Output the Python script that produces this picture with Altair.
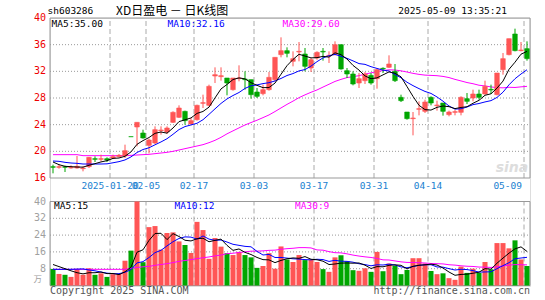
import altair as alt
import pandas as pd

# ---- data (80 trading days, 2025-01-06 .. 2025-05-09) ----
opens = [17.7, 17.6, 17.7, 17.5, 17.5, 17.4, 17.7, 18.9, 18.8, 18.9,
         19.0, 19.2, 19.3, 22.2, 23.65, 22.75, 20.9, 21.25, 23.1, 22.9,
         24.35, 25.1, 26.0, 24.1, 24.75, 27.2, 26.9, 31.3, 31.2, 31.0,
         29.25, 30.9, 30.85, 30.75, 28.9, 28.65, 29.25, 30.75, 34.5, 35.1,
         33.5, 34.9, 34.6, 32.5, 34.0, 35.0, 34.3, 34.5, 36.0, 32.1,
         31.6, 30.25, 30.6, 31.4, 30.9, 32.45, 32.6, 32.0, 28.1, 25.9,
         24.9, 26.3, 26.0, 28.1, 26.85, 27.25, 25.5, 25.85, 25.85, 27.9,
         28.0, 28.6, 28.6, 29.3, 28.5, 32.25, 34.5, 37.6, 35.1, 35.4]
highs = [18.0, 18.0, 17.85, 17.9, 19.3, 17.75, 19.15, 19.25, 19.5, 19.1,
         19.5, 19.6, 21.0, 22.2, 24.35, 23.25, 21.9, 23.75, 23.75, 23.75,
         26.0, 26.9, 26.1, 25.0, 27.0, 28.5, 30.0, 32.6, 32.6, 31.0,
         31.0, 32.9, 32.0, 30.75, 29.5, 30.0, 31.9, 34.1, 37.1, 35.6,
         35.0, 36.4, 35.5, 34.0, 35.0, 35.5, 35.0, 36.5, 36.0, 32.5,
         32.0, 31.75, 31.9, 31.75, 32.4, 32.6, 34.4, 33.1, 28.5, 25.9,
         25.9, 27.5, 27.75, 28.25, 27.6, 27.25, 26.1, 26.25, 28.25, 28.75,
         29.25, 29.25, 30.6, 30.0, 31.75, 34.75, 36.9, 38.4, 36.4, 36.5]
lows = [16.7, 17.4, 16.9, 17.4, 17.4, 17.0, 17.5, 18.4, 18.5, 18.4,
        18.9, 19.1, 19.0, 22.2, 20.75, 21.9, 19.7, 21.1, 22.5, 22.6,
        24.25, 25.0, 24.0, 24.0, 24.6, 26.5, 26.75, 30.25, 30.6, 28.4,
        29.1, 30.5, 29.25, 27.9, 28.0, 28.4, 29.1, 30.5, 34.1, 34.1,
        32.75, 33.5, 32.0, 31.9, 33.75, 33.6, 33.25, 34.4, 32.25, 31.0,
        29.9, 29.5, 30.1, 30.0, 29.4, 31.75, 32.5, 30.4, 27.4, 24.75,
        22.4, 25.4, 25.75, 26.9, 26.1, 25.35, 25.25, 25.4, 25.4, 27.1,
        27.5, 27.75, 28.5, 28.6, 28.4, 31.5, 34.4, 35.0, 35.0, 33.6]
closes = [17.6, 17.7, 17.6, 17.6, 17.75, 17.5, 19.1, 18.8, 18.9, 18.7,
          19.2, 19.4, 20.1, 22.2, 24.35, 22.0, 21.7, 23.25, 23.2, 23.5,
          25.85, 26.5, 24.6, 24.6, 26.9, 27.3, 29.75, 31.5, 31.35, 30.25,
          31.0, 31.0, 30.75, 28.5, 28.25, 29.25, 31.1, 34.1, 35.1, 34.7,
          33.9, 35.0, 32.75, 33.75, 34.85, 34.9, 34.4, 36.0, 32.35, 31.6,
          30.1, 30.9, 31.6, 30.25, 32.25, 32.35, 33.1, 30.6, 27.6, 24.9,
          25.0, 26.4, 27.4, 27.25, 26.95, 26.0, 25.9, 25.95, 28.1, 27.5,
          28.6, 28.1, 29.75, 29.2, 31.75, 33.9, 36.9, 35.1, 35.2, 33.9]
# 1 = red (up) candle, 0 = green (down) candle
rising = [0, 1, 0, 1, 1, 1, 1, 0, 1, 0,
          1, 1, 1, 0, 1, 0, 1, 1, 1, 1,
          1, 1, 0, 1, 1, 1, 1, 1, 1, 0,
          1, 1, 0, 0, 0, 1, 1, 1, 1, 0,
          1, 1, 0, 1, 1, 0, 1, 1, 0, 0,
          0, 1, 1, 0, 1, 0, 1, 0, 0, 0,
          1, 1, 1, 0, 1, 0, 1, 1, 1, 0,
          1, 0, 1, 0, 1, 1, 1, 0, 1, 0]
volumes = [7.9, 5.5, 5.1, 4.1, 7.9, 5.1, 8.2, 5.1, 5.8, 4.1,
           5.4, 5.5, 11.8, 16.6, 40.0, 11.1, 27.8, 28.3, 17.1, 25.0,
           25.3, 21.0, 19.3, 15.5, 30.3, 26.4, 12.7, 22.6, 18.5, 15.4,
           14.5, 16.0, 14.5, 13.4, 8.4, 9.3, 15.4, 8.0, 18.6, 12.4,
           11.2, 14.5, 12.1, 12.3, 11.2, 7.8, 6.5, 13.4, 14.4, 11.5,
           7.3, 7.0, 8.2, 6.5, 16.0, 6.8, 10.5, 9.4, 5.4, 7.4,
           13.0, 13.0, 10.5, 6.9, 5.4, 5.8, 3.5, 2.7, 9.0, 6.0,
           8.0, 6.0, 11.2, 7.7, 20.2, 20.2, 17.7, 21.5, 12.4, 9.3]

# moving-average values before a full window exists
ma5_head = [18.4, 18.0, 17.75, 17.7]
ma10_head = [18.55, 18.5, 18.35, 18.25, 18.2, 18.1, 18.1, 18.1, 18.1]
ma30_head = [19.5, 19.5, 19.5, 19.5, 19.5, 19.35, 19.35, 19.35, 19.35, 19.35,
             19.35, 19.35, 19.35, 19.4, 19.45, 19.5, 19.55, 19.65, 19.75, 19.85,
             20.0, 20.2, 20.4, 20.6, 20.8, 21.0, 21.3, 21.65, 22.1]
vma5_head = [10.0, 9.0, 8.0, 7.0]
vma10_head = [7.7, 7.7, 7.7, 7.7, 7.8, 7.9, 7.4, 7.0, 6.4]
vma30_head = [7.7] * 13 + [8.2, 8.6, 8.9, 9.1, 9.6, 10.0, 10.4, 10.9, 11.5,
                           11.9, 12.3, 12.8, 13.2, 13.6, 14.1, 14.5]

grid_idx = [10, 16, 24, 34, 44, 54, 63, 79]
grid_lab = ["2025-01-20", "02-05", "02-17", "03-03", "03-17", "03-31", "04-14", "05-09"]
price_ticks = [16, 20, 24, 28, 32, 36, 40]
vol_ticks = [8, 16, 24, 32, 40]

RED = "#ff5555"
GREEN = "#00a600"
MONO = "DejaVu Sans Mono"


def moving(vals, n, head):
    s = pd.Series(vals, dtype=float).rolling(n).mean()
    s.iloc[: n - 1] = head
    return s


n = len(closes)
df = pd.DataFrame({
    "i": range(n), "open": opens, "high": highs, "low": lows, "close": closes,
    "vol": volumes,
    "dir": ["up" if r else "down" for r in rising],
})
df["xc"] = df["i"] + 0.5
df["xl"] = df["i"] + 0.12
df["xr"] = df["i"] + 0.88
df["vl"] = df["i"] + 0.08
df["vr"] = df["i"] + 0.92
df["ma5"] = moving(closes, 5, ma5_head)
df["ma10"] = moving(closes, 10, ma10_head)
df["ma30"] = moving(closes, 30, ma30_head)
df["vma5"] = moving(volumes, 5, vma5_head)
df["vma10"] = moving(volumes, 10, vma10_head)
df["vma30"] = moving(volumes, 30, vma30_head)
df["zero"] = 0.0

gdf = pd.DataFrame({"g": grid_idx, "lab": grid_lab,
                    "p0": 16, "p1": 40, "v0": 0, "v1": 40})
bdf = pd.DataFrame({"x0": [0], "x1": [80], "p0": [16], "p1": [40], "v0": [0], "v1": [40]})
phdf = pd.DataFrame({"p": price_ticks[1:-1], "x0": 0, "x1": 80})
vhdf = pd.DataFrame({"v": vol_ticks[:-1], "x0": 0, "x1": 80})
ptdf = pd.DataFrame({"p": price_ticks, "t": [str(v) for v in price_ticks]})
vtdf = pd.DataFrame({"v": vol_ticks, "t": [str(v) for v in vol_ticks]})

xs = alt.Scale(domain=[0, 80], nice=False, zero=False)
ps = alt.Scale(domain=[16, 40], range=[160, 0], nice=False, zero=False)
vs = alt.Scale(domain=[0, 40], range=[267.5, 183.5], nice=False, zero=False)
col = alt.Color("dir:N", scale=alt.Scale(domain=["up", "down"], range=[RED, GREEN]), legend=None)


def X(f):
    return alt.X(f, type="quantitative", scale=xs, axis=None)


def P(f):
    return alt.Y(f, type="quantitative", scale=ps, axis=None)


def V(f):
    return alt.Y(f, type="quantitative", scale=vs, axis=None)


base = alt.Chart(df)
gbase = alt.Chart(gdf)
bbase = alt.Chart(bdf)

# ---------------- price panel ----------------
p_hgrid = alt.Chart(phdf).mark_rule(color="#999999", strokeDash=[1, 2], strokeWidth=1).encode(
    x=X("x0"), x2="x1", y=P("p"))
p_vgrid = gbase.mark_rule(color="#aaaaaa", strokeDash=[5, 3], strokeWidth=1).encode(
    x=X("g"), y=P("p0"), y2="p1")
p_border = bbase.mark_rect(filled=False, stroke="#999999", strokeWidth=1).encode(
    x=X("x0"), x2="x1", y=P("p0"), y2="p1")
p_ticks = alt.Chart(ptdf).mark_text(font=MONO, fontSize=10, color="#ee0000",
                                    align="right", baseline="middle", dx=-4).encode(
    x=alt.value(0), y=P("p"), text="t:N")
wick = base.mark_rule(strokeWidth=1).encode(x=X("xc"), y=P("low"), y2="high", color=col)
body = base.mark_rect(strokeWidth=0.6).encode(
    x=X("xl"), x2="xr", y=P("open"), y2="close", color=col, stroke=col)
l5 = base.mark_line(color="black", strokeWidth=1).encode(x=X("xc"), y=P("ma5"))
l10 = base.mark_line(color="#0000ff", strokeWidth=1).encode(x=X("xc"), y=P("ma10"))
l30 = base.mark_line(color="#ff00ff", strokeWidth=1).encode(x=X("xc"), y=P("ma30"))
price = alt.layer(p_hgrid, p_vgrid, p_border, p_ticks, l30, wick, body, l10, l5)

# ---------------- volume panel ----------------
v_hgrid = alt.Chart(vhdf).mark_rule(color="#999999", strokeDash=[1, 2], strokeWidth=1).encode(
    x=X("x0"), x2="x1", y=V("v"))
v_vgrid = gbase.mark_rule(color="#aaaaaa", strokeDash=[5, 3], strokeWidth=1).encode(
    x=X("g"), y=V("v0"), y2="v1")
v_border = bbase.mark_rect(filled=False, stroke="#999999", strokeWidth=1).encode(
    x=X("x0"), x2="x1", y=V("v0"), y2="v1")
v_ticks = alt.Chart(vtdf).mark_text(font=MONO, fontSize=10, color="#a0a0a0",
                                    align="right", baseline="middle", dx=-4).encode(
    x=alt.value(0), y=V("v"), text="t:N")
vbars = base.mark_rect().encode(x=X("vl"), x2="vr", y=V("zero"), y2="vol", color=col)
v5 = base.mark_line(color="black", strokeWidth=1).encode(x=X("xc"), y=V("vma5"))
v10 = base.mark_line(color="#0000ff", strokeWidth=1).encode(x=X("xc"), y=V("vma10"))
v30 = base.mark_line(color="#ff00ff", strokeWidth=1).encode(x=X("xc"), y=V("vma30"))
vol = alt.layer(v_hgrid, v_vgrid, v_border, v_ticks, vbars, v30, v10, v5)

# ---------------- date labels between the panels ----------------
dlab = gbase.transform_filter(alt.datum.g < 79).mark_text(
    font=MONO, fontSize=9.5, color="#1a7fd0", baseline="middle", align="center").encode(
    x=X("g"), y=alt.value(168), text="lab:N")
dlab_last = gbase.transform_filter(alt.datum.g == 79).mark_text(
    font=MONO, fontSize=9.5, color="#1a7fd0", baseline="middle", align="right", dx=-2).encode(
    x=X("g"), y=alt.value(168), text="lab:N")


def label(txt, x, y, color="black", size=9.5, font=MONO, align="left", **kw):
    return alt.Chart(pd.DataFrame({"t": [txt]})).mark_text(
        font=font, fontSize=size, color=color, align=align, baseline="middle", **kw).encode(
        x=alt.value(x), y=alt.value(y), text="t:N")


texts = alt.layer(
    label("sh603286", -2.5, -7),
    label("XD日盈电 － 日K线图", 66, -7, size=12, font="Noto Sans CJK SC"),
    label("2025-05-09 13:35:21", 457, -7, align="right"),
    label("MA5:35.00", 1.5, 5.5),
    label("MA10:32.16", 117.5, 5.5, color="#0000ff"),
    label("MA30:29.60", 232.5, 5.5, color="#ff00ff"),
    label("MA5:15", 4, 188),
    label("MA10:12", 124.5, 188, color="#0000ff"),
    label("MA30:9", 245, 188, color="#ff00ff"),
    label("万", -8, 261, color="#a0a0a0", align="right", size=8.5, font="Noto Sans CJK SC"),
    label("Copyright 2025 SINA.COM", 0, 273, color="#555555", size=10),
    label("http://finance.sina.com.cn", 480, 273, color="#555555", size=10, align="right"),
    label("sina", 462, 150, color="#dddddd", size=14, font="DejaVu Sans", align="center",
          fontStyle="italic", fontWeight="bold"),
)

chart = alt.layer(price, vol, dlab, dlab_last, texts).resolve_scale(y="independent").properties(
    width=480, height=268,
    padding={"left": 50, "top": 18, "right": 15, "bottom": 14},
    autosize=alt.AutoSizeParams(type="none"),
).configure_view(stroke=None).configure(background="white")

chart.save("out.html", embed_options={"renderer": "svg", "actions": False})
